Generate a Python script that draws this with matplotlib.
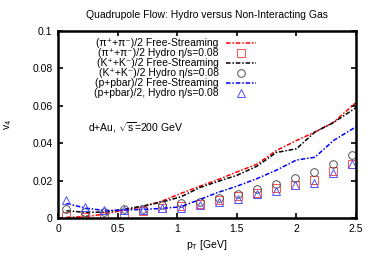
import matplotlib
matplotlib.use("Agg")
import matplotlib.pyplot as plt

plt.rcParams['font.family'] = ['Liberation Sans', 'DejaVu Sans']
plt.rcParams['mathtext.fontset'] = 'custom'
plt.rcParams['mathtext.rm'] = 'Liberation Sans'
plt.rcParams['mathtext.it'] = 'Liberation Sans'

# transverse momentum grid (GeV)
pt = [0.07, 0.23, 0.39, 0.55, 0.71, 0.87, 1.03, 1.19, 1.35, 1.51,
      1.67, 1.83, 1.99, 2.15, 2.31, 2.47]

# free-streaming curves
fs_pt = [0.07, 0.23, 0.39, 0.55, 0.71, 0.87, 1.03, 1.19, 1.33, 1.5,
         1.667, 1.83, 2.0, 2.156, 2.31, 2.5]
pi_fs = [0.0004, 0.0007, 0.0021, 0.0042, 0.0060, 0.0090, 0.0131, 0.0170,
         0.0202, 0.0246, 0.0287, 0.0360, 0.0414, 0.0460, 0.0511, 0.0617]
k_fs = [0.0039, 0.0030, 0.0032, 0.0046, 0.0064, 0.0085, 0.0113, 0.0163,
        0.0193, 0.0228, 0.0276, 0.0350, 0.0370, 0.0460, 0.0510, 0.0590]
p_fs = [0.0078, 0.0053, 0.0040, 0.0042, 0.0046, 0.0051, 0.0060, 0.0099,
        0.0134, 0.0170, 0.0210, 0.0255, 0.0310, 0.0325, 0.0414, 0.0488]

# hydro points
pi_hy = [0.0009, 0.0005, 0.0012, 0.0023, 0.0035, 0.0055, 0.0064, 0.0076,
         0.0096, 0.0117, 0.0136, 0.0160, 0.0179, 0.0205, 0.0250, 0.0290]
k_hy = [0.0050, 0.0034, 0.0034, 0.0048, 0.0046, 0.0067, 0.0078, 0.0087,
        0.0106, 0.0130, 0.0156, 0.0184, 0.0212, 0.0244, 0.0290, 0.0338]
p_hy = [0.0094, 0.0058, 0.0044, 0.0044, 0.0044, 0.0053, 0.0051, 0.0069,
        0.0085, 0.0101, 0.0129, 0.0143, 0.0175, 0.0188, 0.0239, 0.0290]

labels = ['(π⁺+π⁻)/2 Free-Streaming',
          '(π⁺+π⁻)/2 Hydro η/s=0.08',
          '(K⁺+K⁻)/2 Free-Streaming',
          '(K⁺+K⁻)/2 Hydro η/s=0.08',
          '(p+pbar)/2 Free-Streaming',
          '(p+pbar)/2, Hydro η/s=0.08']

fig = plt.figure(figsize=(3.74, 2.62), dpi=100)
ax = fig.add_axes([58/374, 1-218/262, 298/374, 187/262])

dash = (0, (3, 1.2, 1, 1.2))
ax.plot(fs_pt, pi_fs, color='#ff0000', lw=1.1, linestyle=dash, label=labels[0])
ax.plot(pt, pi_hy, linestyle='none', marker='s', ms=5.5, mfc='none',
        mec='#ff5050', mew=0.7, label=labels[1])
ax.plot(fs_pt, k_fs, color='#000000', lw=1.1, linestyle=dash, label=labels[2])
ax.plot(pt, k_hy, linestyle='none', marker='o', ms=5.5, mfc='none',
        mec='#505050', mew=0.7, label=labels[3])
ax.plot(fs_pt, p_fs, color='#0000ff', lw=1.1, linestyle=dash, label=labels[4])
ax.plot(pt, p_hy, linestyle='none', marker='^', ms=5.5, mfc='none',
        mec='#5050ff', mew=0.7, label=labels[5])

ax.set_xlim(0, 2.5)
ax.set_ylim(0, 0.1)
ax.set_xticks([0, 0.5, 1, 1.5, 2, 2.5])
ax.set_xticklabels(['0', '0.5', '1', '1.5', '2', '2.5'])
ax.set_yticks([0, 0.02, 0.04, 0.06, 0.08, 0.1])
ax.set_yticklabels(['0', '0.02', '0.04', '0.06', '0.08', '0.1'])
ax.tick_params(direction='in', top=True, right=True, length=3.5, width=1.2,
               labelsize=7.5, pad=4)
for s in ax.spines.values():
    s.set_linewidth(1.8)

ax.set_xlabel(r'p$_{\mathrm{T}}$ [GeV]', fontsize=7.5, labelpad=3)
ax.set_ylabel(r'v$_{4}$', fontsize=7.5, labelpad=13)
ax.set_title('Quadrupole Flow: Hydro versus Non-Interacting Gas',
             fontsize=7.5, pad=9)

ax.text(0.1, 0.485, r'd+Au, $\sqrt{\mathrm{s}}$=200 GeV', transform=ax.transAxes,
        fontsize=7.5, ha='left', va='center')

leg = ax.legend(loc='upper right', bbox_to_anchor=(0.69, 1.0), frameon=False,
                markerfirst=False, fontsize=7.5, handlelength=2.9,
                handletextpad=0.7, labelspacing=0.0, borderpad=0.2)

fig.savefig('out.png', dpi=100)
